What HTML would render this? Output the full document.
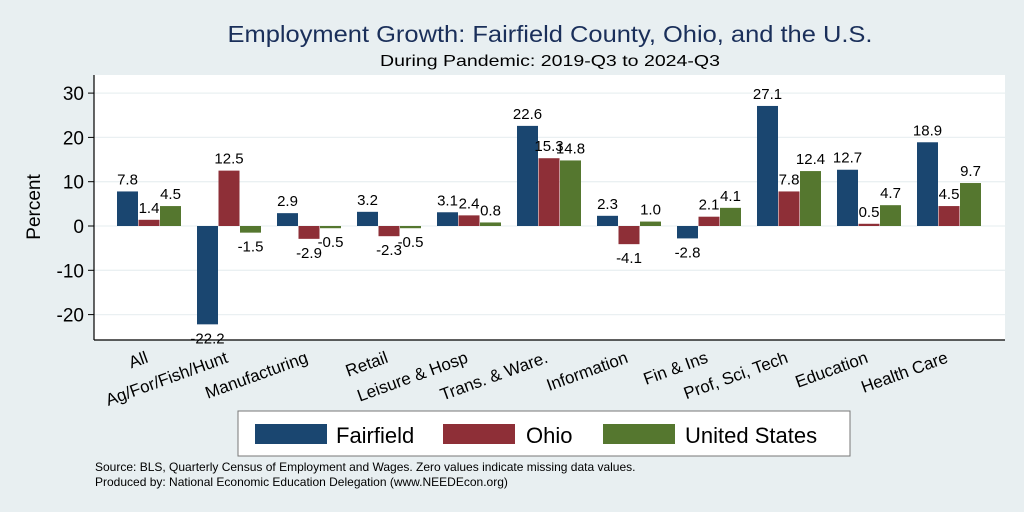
<!DOCTYPE html>
<html><head><meta charset="utf-8"><style>
body{margin:0;background:#e8eff1;}
svg{display:block;font-family:"Liberation Sans",sans-serif;}
</style></head><body>
<svg width="1024" height="512" viewBox="0 0 1024 512">
<rect width="1024" height="512" fill="#e8eff1"/>
<text x="550" y="42" text-anchor="middle" font-size="23" textLength="645" lengthAdjust="spacingAndGlyphs" fill="#1a2f5a">Employment Growth: Fairfield County, Ohio, and the U.S.</text>
<text x="550" y="66" text-anchor="middle" font-size="16" textLength="340" lengthAdjust="spacingAndGlyphs" fill="#000">During Pandemic: 2019-Q3 to 2024-Q3</text>
<rect x="94" y="75" width="911" height="265" fill="#fff"/>
<g id="grid"></g><g id="bars"></g><g id="labels"></g><g id="xlabels"></g>
<line x1="94" y1="75" x2="94" y2="340" stroke="#000" stroke-width="1.2"/>
<line x1="94" y1="340" x2="1005" y2="340" stroke="#000" stroke-width="1.2"/>
<text transform="translate(40,207) rotate(-90)" text-anchor="middle" font-size="19">Percent</text>
<g>
<rect x="238" y="411" width="612" height="45" fill="#fff" stroke="#777"/>
<rect x="255" y="424" width="72" height="20" fill="#1a4670"/>
<text x="336" y="443" font-size="22">Fairfield</text>
<rect x="443" y="424" width="72" height="20" fill="#8e2f37"/>
<text x="526" y="443" font-size="22">Ohio</text>
<rect x="603" y="424" width="72" height="20" fill="#55772f"/>
<text x="685" y="443" font-size="22">United States</text>
</g>
<text x="95" y="471" font-size="12">Source: BLS, Quarterly Census of Employment and Wages. Zero values indicate missing data values.</text>
<text x="95" y="486" font-size="12">Produced by: National Economic Education Delegation (www.NEEDEcon.org)</text>
</svg>
<script>
const categories=["All","Ag/For/Fish/Hunt","Manufacturing","Retail","Leisure & Hosp","Trans. & Ware.","Information","Fin & Ins","Prof, Sci, Tech","Education","Health Care"];
const fairfield=[7.8,-22.2,2.9,3.2,3.1,22.6,2.3,-2.8,27.1,12.7,18.9];
const ohio=[1.4,12.5,-2.9,-2.3,2.4,15.3,-4.1,2.1,7.8,0.5,4.5];
const us=[4.5,-1.5,-0.5,-0.5,0.8,14.8,1.0,4.1,12.4,4.7,9.7];
const yTicks=[-20,-10,0,10,20,30];
const NS="http://www.w3.org/2000/svg";
const y=v=>226-v*4.43;
const gx=i=>117+i*80;
const BW=21;
function mk(tag,attrs,parent,txt){const e=document.createElementNS(NS,tag);for(const k in attrs)e.setAttribute(k,attrs[k]);if(txt!==undefined)e.textContent=txt;document.getElementById(parent).appendChild(e);return e;}
yTicks.forEach(t=>{
 const g=mk("line",{x1:94,x2:1005,y1:y(t),y2:y(t),stroke:"#eaf0f2","stroke-width":1.3},"grid");
 
 
 const tk=mk("line",{x1:88,x2:94,y1:y(t),y2:y(t),stroke:"#000"},"grid");
 
 
 const l=mk("text",{x:84,y:y(t)+7,"text-anchor":"end","font-size":19},"grid",String(t));
 
 
});
const series=[[fairfield,"#1a4670","fairfield"],[ohio,"#8e2f37","ohio"],[us,"#55772f","us"]];
categories.forEach((c,i)=>{
 series.forEach(([vals,col,nm],s)=>{
  const v=vals[i];const x=gx(i)+s*(BW+0.5);
  const r=mk("rect",{x:x,y:Math.min(y(v),y(0)),width:BW,height:Math.abs(y(v)-y(0)),fill:col},"bars");
  
  
  const ly=v>=0?y(v)-7:y(v)+19;
  const t=mk("text",{x:x+BW/2,y:ly,"text-anchor":"middle","font-size":15},"labels",v.toFixed(1));
  
  
 });
 const cx=gx(i)+32;
 const xl=mk("text",{x:0,y:0,"text-anchor":"end","font-size":17,transform:`translate(${cx},${362}) rotate(-20)`},"xlabels",c);
 
 
});
</script>
</body></html>
